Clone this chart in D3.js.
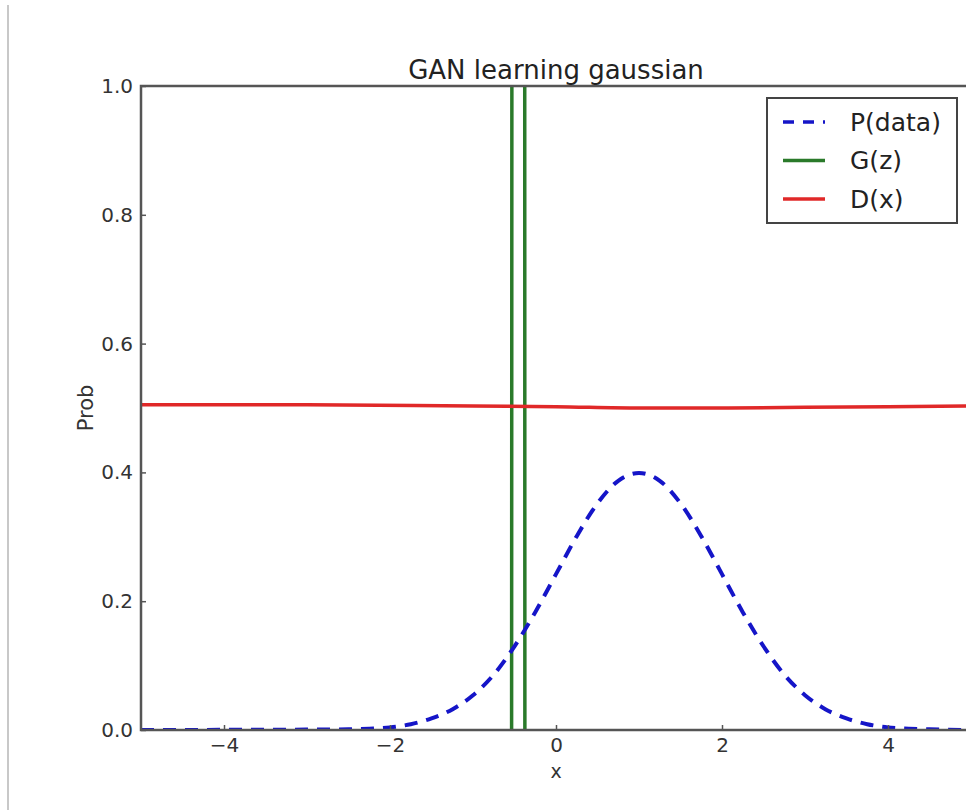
<!DOCTYPE html>
<head>
    <title>GAN learning gaussian</title>
    <script src="https://d3js.org/d3.v7.min.js"></script>
</head>
<style>
body {
  margin: 0;
  background: #fff;
  font-family: "DejaVu Sans", Arial, sans-serif;
}
</style>
<body>
    <svg></svg>
</body>

<script>

    // P(data)
    var pX = [-5, -2.5, -2.25, -2, -1.75, -1.5, -1.25, -1, -0.75, -0.5, -0.25, 0, 0.25, 0.5, 0.75,
              1, 1.25, 1.5, 1.75, 2, 2.25, 2.5, 2.75, 3, 3.25, 3.5, 3.75, 4, 4.25, 4.5, 5];
    var pY = [0, 0.001, 0.002, 0.004, 0.009, 0.018, 0.032, 0.054, 0.086, 0.130, 0.183, 0.242, 0.301, 0.352, 0.387,
              0.399, 0.387, 0.352, 0.301, 0.242, 0.183, 0.130, 0.086, 0.054, 0.032, 0.018, 0.009, 0.004, 0.002, 0.001, 0];

    // G(z): very narrow spike, runs off the top
    var gX = [-0.535, -0.525, -0.45, -0.38, -0.375];
    var gY = [0, 3, 6, 3, 0];

    // D(x): almost flat at 0.5
    var dX = [-5, -3, -1, 0, 1, 2, 3, 5];
    var dY = [0.505, 0.505, 0.503, 0.502, 0.5, 0.5, 0.501, 0.503];

    var xTicks = [-4, -2, 0, 2, 4];
    var yTicks = [0.0, 0.2, 0.4, 0.6, 0.8, 1.0];

    var width = 966;
    var height = 810;
    // plot box (right edge runs past the window, as in the screenshot)
    var plotL = 141, plotR = 971, plotT = 86, plotB = 730;

    var svg = d3.select('svg')
        .attr('width', width)
        .attr('height', height);

    // thin grey page border on the left
    svg.append('line')
        .attr('x1', 8).attr('x2', 8)
        .attr('y1', 5).attr('y2', height)
        .style('stroke', '#c8c8c8')
        .style('stroke-width', 2);

    var x = d3.scaleLinear().domain([-5, 5]).range([plotL, plotR]);
    var y = d3.scaleLinear().domain([0, 1]).range([plotB, plotT]);

    svg.append('clipPath').attr('id', 'plot')
        .append('rect')
        .attr('x', plotL).attr('y', plotT)
        .attr('width', plotR - plotL).attr('height', plotB - plotT);

    var line = d3.line()
        .x(function (d) { return x(d[0]); })
        .y(function (d) { return y(d[1]); });

    var plot = svg.append('g').attr('clip-path', 'url(#plot)');

    plot.append('path')
        .datum(d3.zip(gX, gY))
        .attr('d', line)
        .style('fill', 'none')
        .style('stroke', '#2a7a2a')
        .style('stroke-width', 3.5);

    plot.append('path')
        .datum(d3.zip(dX, dY))
        .attr('d', line.curve(d3.curveMonotoneX))
        .style('fill', 'none')
        .style('stroke', '#e02828')
        .style('stroke-width', 3.5);

    plot.append('path')
        .datum(d3.zip(pX, pY))
        .attr('d', line.curve(d3.curveMonotoneX))
        .style('fill', 'none')
        .style('stroke', '#1515c8')
        .style('stroke-width', 4)
        .style('stroke-dasharray', '13,9');

    // axes: ticks point inward like matplotlib
    svg.append('g')
        .attr('transform', 'translate(0,' + plotB + ')')
        .call(d3.axisBottom(x).tickValues(xTicks).tickSizeInner(-5).tickSizeOuter(0).tickPadding(8)
            .tickFormat(function (d) { return d < 0 ? '\u2212' + Math.abs(d) : d; }));

    svg.append('g')
        .attr('transform', 'translate(' + plotL + ',0)')
        .call(d3.axisLeft(y).tickValues(yTicks).tickSizeInner(-5).tickSizeOuter(0).tickPadding(8)
            .tickFormat(d3.format('.1f')));

    svg.selectAll('.tick text')
        .style('font-family', '"DejaVu Sans", sans-serif')
        .style('font-size', '20px')
        .style('fill', '#333');
    svg.selectAll('.tick line').style('stroke', '#555').style('stroke-width', 1.5);
    svg.selectAll('.domain').style('stroke', 'none');

    // frame
    svg.append('rect')
        .attr('x', plotL).attr('y', plotT)
        .attr('width', plotR - plotL).attr('height', plotB - plotT)
        .style('fill', 'none')
        .style('stroke', '#555')
        .style('stroke-width', 2.5);

    svg.append('text')
        .attr('x', x(0)).attr('y', 79)
        .attr('text-anchor', 'middle')
        .style('font-size', '26px')
        .style('fill', '#222')
        .text('GAN learning gaussian');

    svg.append('text')
        .attr('x', x(0)).attr('y', 778)
        .attr('text-anchor', 'middle')
        .style('font-size', '19px')
        .style('fill', '#333')
        .text('x');

    svg.append('text')
        .attr('transform', 'translate(93,' + y(0.5) + ')rotate(-90)')
        .attr('text-anchor', 'middle')
        .style('font-size', '21px')
        .style('fill', '#333')
        .text('Prob');

    // legend
    var names = ['P(data)', 'G(z)', 'D(x)'];
    var colors = ['#1515c8', '#2a7a2a', '#e02828'];
    var dashes = ['11,9', null, null];

    var legend = svg.append('g').attr('transform', 'translate(767,98)');
    legend.append('rect')
        .attr('width', 190).attr('height', 125)
        .style('fill', '#fff')
        .style('stroke', '#444')
        .style('stroke-width', 2);

    var item = legend.selectAll('.item')
        .data(names)
        .enter().append('g')
        .attr('class', 'item')
        .attr('transform', function (d, i) { return 'translate(0,' + (24 + i * 38.5) + ')'; });

    item.append('line')
        .attr('x1', 16).attr('x2', 58)
        .style('stroke', function (d, i) { return colors[i]; })
        .style('stroke-width', 3.5)
        .style('stroke-dasharray', function (d, i) { return dashes[i]; });

    item.append('text')
        .attr('x', 83).attr('dy', '0.35em')
        .style('font-size', '25px')
        .style('fill', '#222')
        .text(function (d) { return d; });

</script>
